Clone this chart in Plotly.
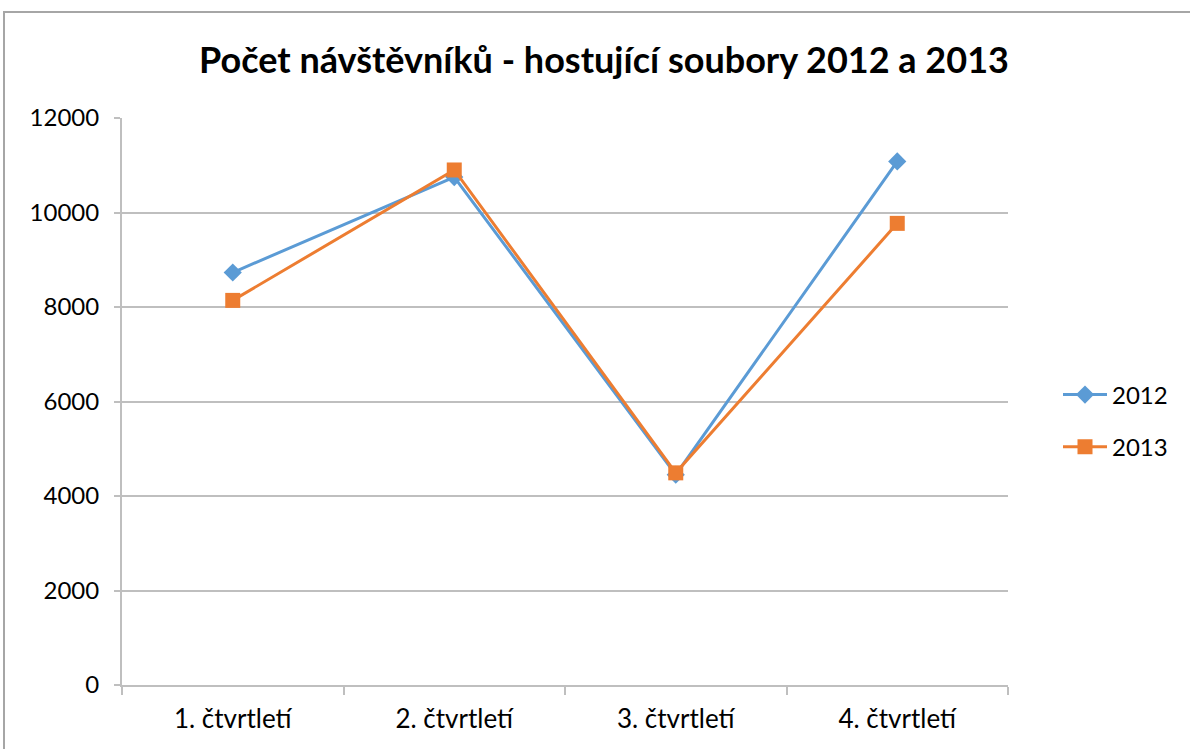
import plotly.graph_objects as go

categories = ["1. čtvrtletí", "2. čtvrtletí", "3. čtvrtletí", "4. čtvrtletí"]
values_2012 = [8730, 10750, 4450, 11080]
values_2013 = [8140, 10900, 4490, 9770]
y_ticks = [0, 2000, 4000, 6000, 8000, 10000, 12000]

BLUE = "#5B9BD5"
ORANGE = "#ED7D31"
GRID = "#BFBFBF"
FONT = "Lato, Open Sans, sans-serif"

fig = go.Figure()
fig.add_trace(go.Scatter(
    x=categories, y=values_2012, name="2012", mode="lines+markers",
    line=dict(color=BLUE, width=3),
    marker=dict(symbol="diamond", size=14, color=BLUE),
    legendgroup="a",
))
fig.add_trace(go.Scatter(
    x=categories, y=values_2013, name="2013", mode="lines+markers",
    line=dict(color=ORANGE, width=3),
    marker=dict(symbol="square", size=15, color=ORANGE),
    legendgroup="b",
))

W, H = 1190, 749
L, R, T, B = 122, 1008, 118, 685
pw, ph = R - L, B - T

fig.update_layout(
    width=W, height=H,
    margin=dict(l=L, r=W - R, t=T, b=H - B),
    paper_bgcolor="white", plot_bgcolor="white",
    font=dict(family=FONT, size=24, color="#000000"),
    title=dict(
        text="<b>Počet návštěvníků - hostující soubory 2012 a 2013</b>",
        x=604 / W, xanchor="center", y=1 - 60 / H, yanchor="middle",
        font=dict(family=FONT, size=36, color="#000000"),
    ),
    showlegend=True,
    legend=dict(
        x=(1058 - L) / pw, xanchor="left", y=(B - 421) / ph, yanchor="middle",
        font=dict(family=FONT, size=24), tracegroupgap=18, itemwidth=44,
        traceorder="grouped", bgcolor="rgba(0,0,0,0)",
    ),
    xaxis=dict(
        type="category", range=[-0.5, 3.5], tickson="boundaries",
        showline=True, linecolor=GRID, linewidth=2,
        ticks="outside", ticklen=8, tickcolor=GRID, tickwidth=2,
        showgrid=False, tickfont=dict(size=26), ticklabelstandoff=10,
    ),
    yaxis=dict(
        range=[0, 12000], tickvals=y_ticks, ticktext=[str(v) for v in y_ticks],
        showline=True, linecolor=GRID, linewidth=2,
        ticks="outside", ticklen=6, tickcolor=GRID, tickwidth=2,
        showgrid=True, gridcolor=GRID, gridwidth=2,
        zeroline=False, tickfont=dict(size=24), ticklabelstandoff=10,
    ),
    shapes=[dict(
        type="rect", xref="paper", yref="paper",
        x0=(4 - L) / pw, x1=1.4, y0=-0.3, y1=(B - 12) / ph,
        line=dict(color="#A6A6A6", width=2), fillcolor="rgba(0,0,0,0)",
        layer="below",
    )],
)

fig.write_html(
    "out.html",
    config={"displayModeBar": False},
    post_script="document.body.style.margin='0';",
)
